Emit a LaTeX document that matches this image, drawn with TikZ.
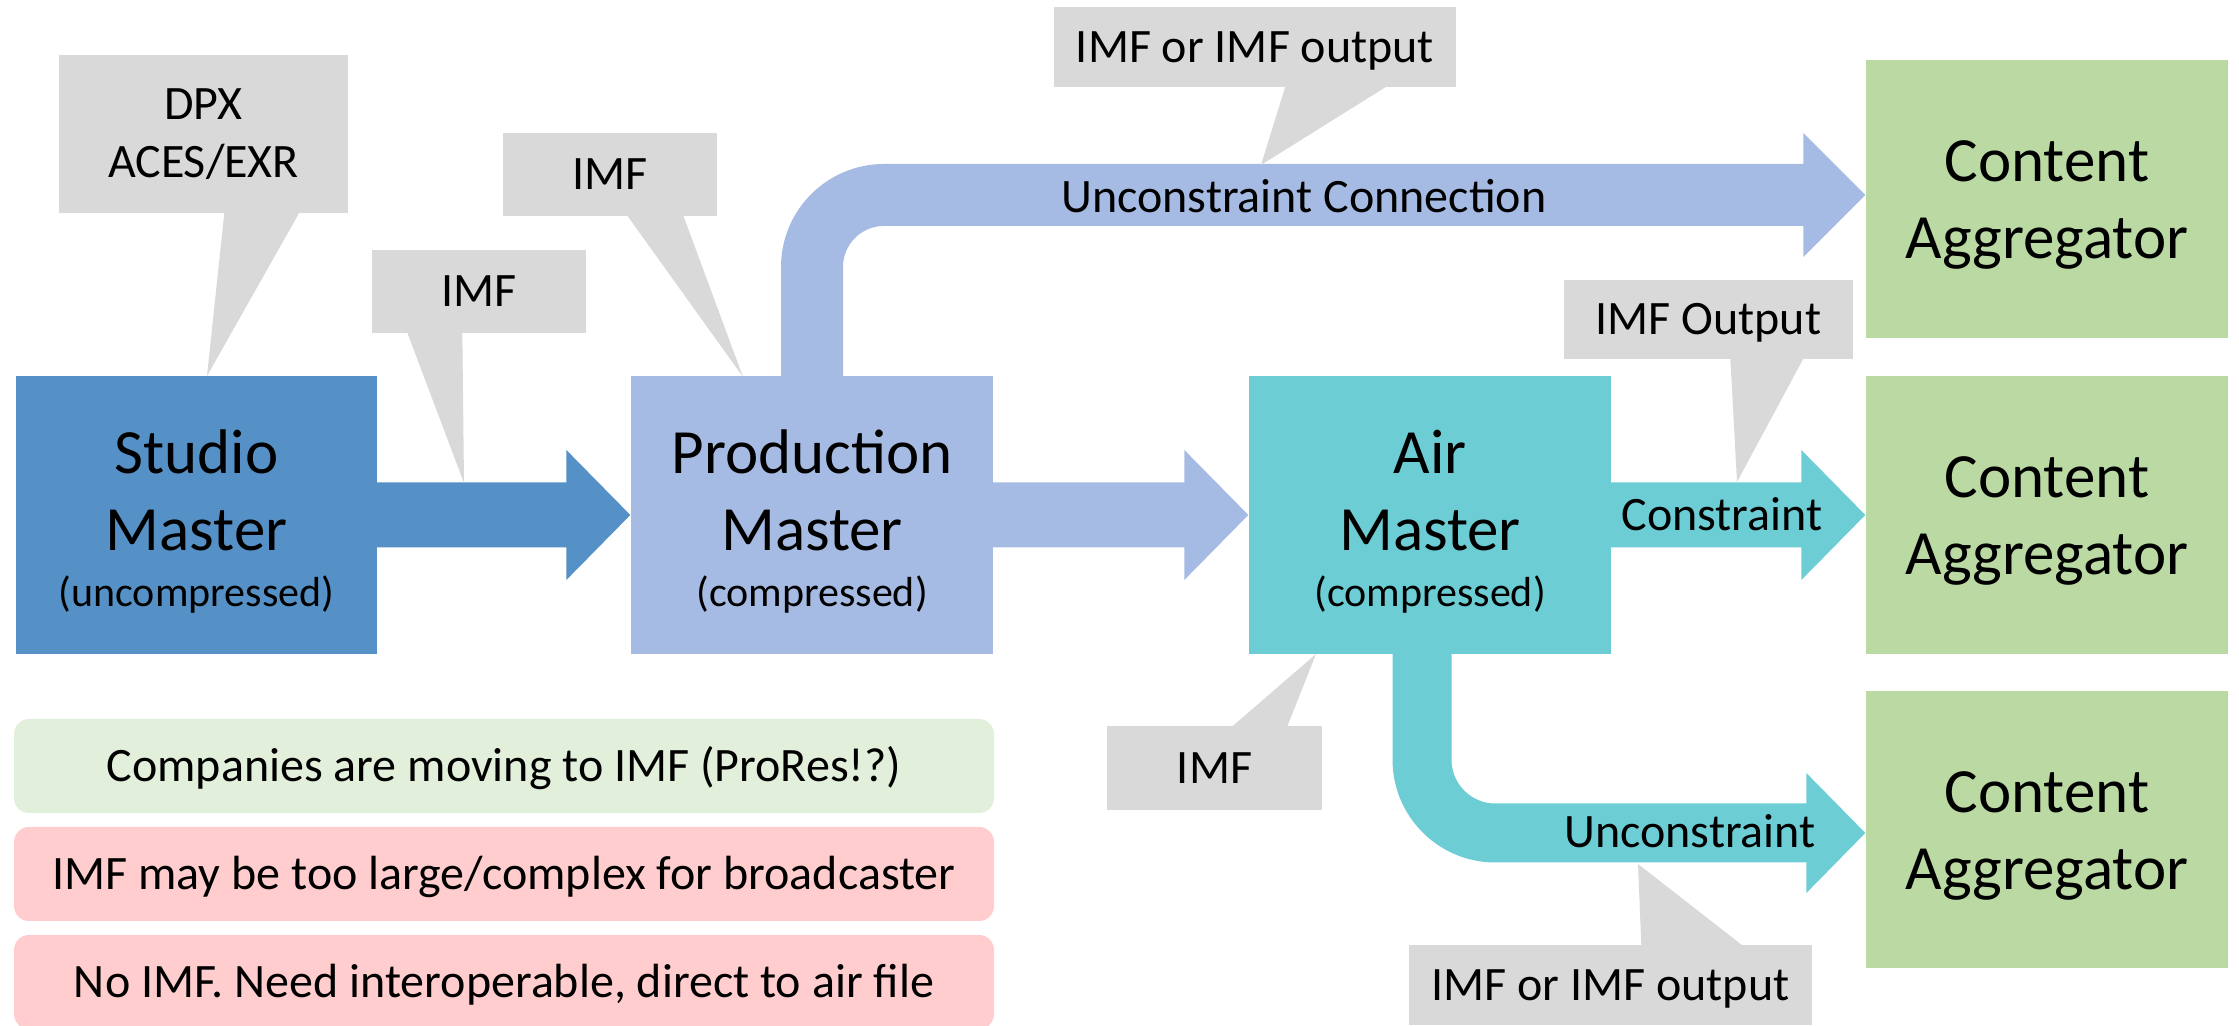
\documentclass[tikz,border=0pt]{standalone}
\usepackage{fontspec}
\setmainfont{Carlito}
\usetikzlibrary{calc}

\definecolor{studioblue}{HTML}{5591C6}
\definecolor{prodblue}{HTML}{A6BBE3}
\definecolor{airteal}{HTML}{6DCDD4}
\definecolor{aggreen}{HTML}{BAD9A3}
\definecolor{callgray}{HTML}{D9D9D9}
\definecolor{notegreen}{HTML}{E2EFDA}
\definecolor{notepink}{HTML}{FFCDCD}

% straight block arrow: colour, start anchor, tip anchor
\newcommand\blockarrow[3]{%
  \fill[#1] ($(#2)+(-1.5,-32.5)$) -- ($(#3)+(-64,-32.5)$) -- ($(#3)+(-64,-65)$)
    -- (#3) -- ($(#3)+(-64,65)$) -- ($(#3)+(-64,32.5)$) -- ($(#2)+(-1.5,32.5)$) -- cycle;}

\begin{document}
\begin{tikzpicture}[x=0.3pt,y=-0.3pt,
  box/.style 2 args={rectangle, inner sep=0pt, minimum width=#1*0.3pt, minimum height=#2*0.3pt},
  bigtxt/.style={align=center, inner sep=0pt, font=\fontsize{18.9}{23.1}\selectfont},
  smalltxt/.style={font=\fontsize{14.4}{17.4}\selectfont},
  calloutbox/.style 2 args={box={#1}{#2}, fill=callgray, smalltxt, text height=9.3pt, text depth=0pt},
  note/.style={box={980}{94}, rounded corners=4.5pt, smalltxt, text height=9.3pt, text depth=0pt},
]
\useasboundingbox (0,0) rectangle (2239,1026);

% main blocks
\node[box={361}{278}, fill=studioblue] (sm) at (196.5,515) {};
\node[box={362}{278}, fill=prodblue] (pm) at (812,515) {};
\node[box={362}{278}, fill=airteal] (am) at (1430,515) {};
\node[box={362}{278}, fill=aggreen] (ca1) at (2047,199) {};
\node[box={362}{278}, fill=aggreen] (ca2) at (2047,515) {};
\node[box={362}{277}, fill=aggreen] (ca3) at (2047,829.5) {};

% straight flows
\blockarrow{studioblue}{sm.east}{pm.west}
\blockarrow{prodblue}{pm.east}{am.west}
\blockarrow{airteal}{am.east}{ca2.west}

% bent flow from Production Master to the upper aggregator
\coordinate (toptip) at ($(ca1.west)+(0,-4)$);
\draw[prodblue, line width=18.6pt, rounded corners=21.6pt]
  ($(pm.north)+(0,1.5)$) -- (pm.north |- toptip) -- ($(toptip)+(-61,0)$);
\fill[prodblue] ($(toptip)+(-62,-62)$) -- (toptip) -- ($(toptip)+(-62,62)$) -- cycle;

% bent flow from Air Master to the lower aggregator
\coordinate (bottip) at ($(ca3.west)+(0,3.5)$);
\draw[airteal, line width=17.7pt, rounded corners=22pt]
  ($(am.south)+(-8,-1.5)$) |- ($(bottip)+(-58,0)$);
\fill[airteal] ($(bottip)+(-59,-60)$) -- (bottip) -- ($(bottip)+(-59,60)$) -- cycle;

% block texts
\node[bigtxt] (smlab) at ($(sm.center)+(0,6.5)$)
  {Studio\\Master\\[-6.3pt]{\fontsize{12.6}{15}\selectfont(uncompressed)}};
\node[bigtxt] (pmlab) at ($(pm.center)+(0,6.5)$)
  {Production\\Master\\[-6.3pt]{\fontsize{12.6}{15}\selectfont(compressed)}};
\node[bigtxt] (amlab) at ($(am.center)+(0,6.5)$)
  {Air\\Master\\[-6.3pt]{\fontsize{12.6}{15}\selectfont(compressed)}};
\node[bigtxt] (ca1lab) at ($(ca1.center)+(0,6)$) {Content\\Aggregator};
\node[bigtxt] (ca2lab) at ($(ca2.center)+(0,6)$) {Content\\Aggregator};
\node[bigtxt] (ca3lab) at ($(ca3.center)+(0,6)$) {Content\\Aggregator};

% flow labels
\node[smalltxt, anchor=base] (lblcon) at (1304,213) {Unconstraint Connection};
\node[smalltxt, anchor=base] (lblcst) at (1722,531) {Constraint};
\node[smalltxt, anchor=base] (lblunc) at (1690,848) {Unconstraint};

% callouts
\coordinate (tip1) at (207,376);
\coordinate (tip2) at (464,483);
\coordinate (tip3) at (743,377);
\coordinate (tip4) at (1261,165);
\coordinate (tip5) at (1737,482);
\coordinate (tip6) at (1316,654);
\coordinate (tip7) at (1638,864);

\node[box={289}{158}, fill=callgray, align=center, smalltxt] (c1) at (203.5,134) {DPX\\ACES/EXR};
\fill[callgray] ($(c1.south west)+(166,-1)$) -- (tip1) -- ($(c1.south west)+(241,-1)$) -- cycle;

\node[calloutbox={214}{83}] (c2) at (479,291.5) {IMF};
\fill[callgray] ($(c2.south west)+(36,-1)$) -- (tip2) -- ($(c2.south west)+(91,-1)$) -- cycle;

\node[calloutbox={214}{83}] (c3) at (610,174.5) {IMF};
\fill[callgray] ($(c3.south west)+(125,-1)$) -- (tip3) -- ($(c3.south west)+(181,-1)$) -- cycle;

\node[calloutbox={402}{80}] (c4) at (1255,47) {IMF or IMF output};
\fill[callgray] ($(c4.south west)+(232,-1)$) -- (tip4) -- ($(c4.south west)+(333,-1)$) -- cycle;

\node[calloutbox={289}{79}] (c5) at (1708.5,319.5) {IMF Output};
\fill[callgray] ($(c5.south west)+(167,-1)$) -- (tip5) -- ($(c5.south west)+(240,-1)$) -- cycle;

\node[calloutbox={215}{84}] (c6) at (1214.5,768) {IMF};
\fill[callgray] ($(c6.north west)+(126,1)$) -- (tip6) -- ($(c6.north west)+(181,1)$) -- cycle;

\node[calloutbox={403}{80}] (c7) at (1610.5,985) {IMF or IMF output};
\fill[callgray] ($(c7.north west)+(233,1)$) -- (tip7) -- ($(c7.north west)+(334,1)$) -- cycle;

% notes
\node[note, fill=notegreen] (n1) at (504,766) {Companies are moving to IMF (ProRes!?)};
\node[note, fill=notepink] (n2) at (504,874) {IMF may be too large/complex for broadcaster};
\node[note, fill=notepink] (n3) at (504,982) {No IMF. Need interoperable, direct to air file};
\end{tikzpicture}
\end{document}
